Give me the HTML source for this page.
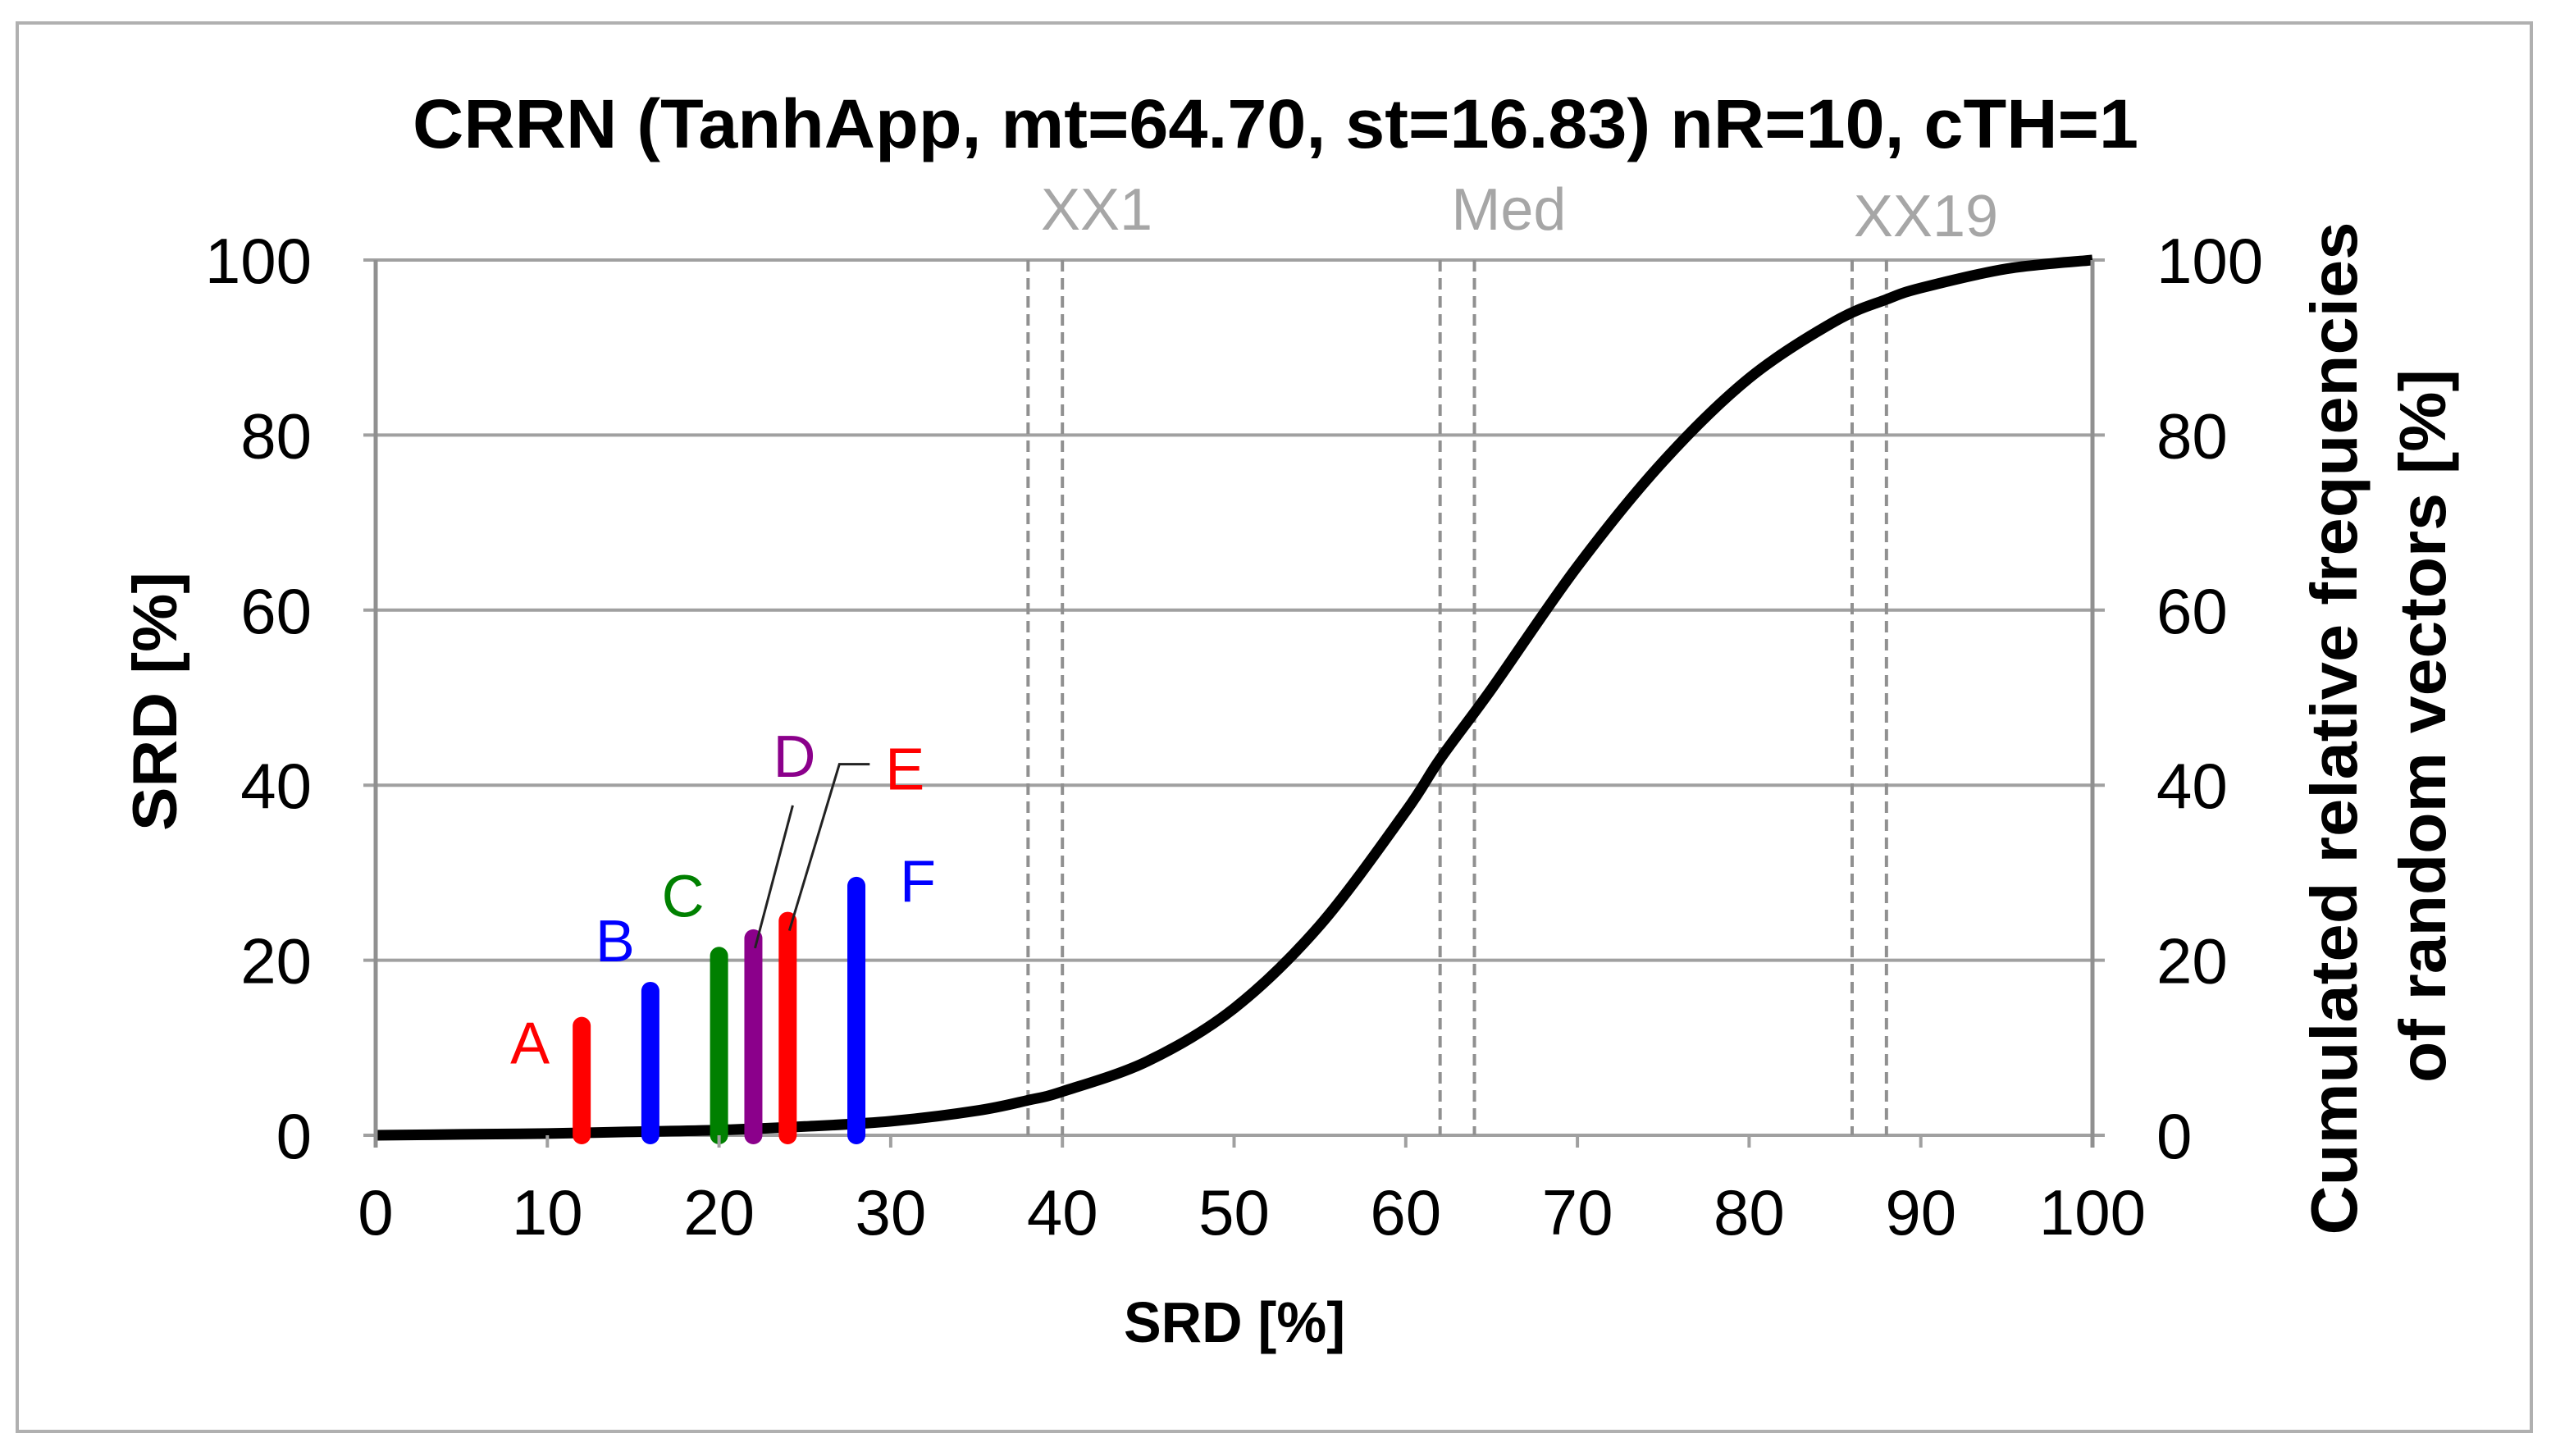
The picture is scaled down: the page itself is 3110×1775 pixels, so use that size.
<!DOCTYPE html>
<html><head><meta charset="utf-8"><style>
html,body{margin:0;padding:0;background:#fff;}
svg{display:block;}
text{font-family:"Liberation Sans",sans-serif;}
</style></head><body>
<svg id="chart" width="3110" height="1775" viewBox="0 0 3110 1775" xmlns="http://www.w3.org/2000/svg">
<rect x="21" y="28" width="3065" height="1717" fill="#fff" stroke="#b0b0b0" stroke-width="4"/>
<text x="503" y="180" font-size="84" font-weight="bold" textLength="2104" lengthAdjust="spacingAndGlyphs">CRRN (TanhApp,  mt=64.70, st=16.83) nR=10, cTH=1</text>
<g id="grid"></g>
<g id="dash"></g>
<g id="curve"></g>
<g id="bars"></g>
<g id="axes"></g>
<text transform="translate(215,855) rotate(-90)" text-anchor="middle" font-size="76" font-weight="bold" textLength="316" lengthAdjust="spacingAndGlyphs">SRD [%]</text>
<text x="1505" y="1636" text-anchor="middle" font-size="70" font-weight="bold" textLength="270" lengthAdjust="spacingAndGlyphs">SRD [%]</text>
<text transform="translate(2873,888) rotate(-90)" text-anchor="middle" font-size="80" font-weight="bold" textLength="1235" lengthAdjust="spacingAndGlyphs">Cumulated relative frequencies</text>
<text transform="translate(2981,885) rotate(-90)" text-anchor="middle" font-size="80" font-weight="bold" textLength="870" lengthAdjust="spacingAndGlyphs">of random vectors [%]</text>
</svg>
<script>
const xTicks=[0,10,20,30,40,50,60,70,80,90,100];
const yTicks=[0,20,40,60,80,100];
const curveX=[0,5,10,15,20,25,30,35,38,40,45,50,55,60,62,65,70,75,80,85,88,90,95,100];
const curveY=[0,0.1,0.2,0.4,0.6,1.0,1.6,2.8,4,5,8.5,14.5,24,37,43,51,65,77,86.5,93,95.5,96.8,99,100];
const dashX=[38,40,62,64,86,88];
const markerNames=["XX1","Med","XX19"];
const markerX=[42,66,90.3];
const barNames=["A","B","C","D","E","F"];
const barX=[12,16,20,22,24,28];
const barY=[12.5,16.5,20.5,22.5,24.5,28.5];
const barColors=["#ff0000","#0000ff","#008000","#8b008b","#ff0000","#0000ff"];
const NS="http://www.w3.org/2000/svg";
const X0=458,X1=2551,Y0=1384,Y1=317;
const sx=v=>X0+(X1-X0)*v/100;
const sy=v=>Y0-(Y0-Y1)*v/100;
function mk(tag,attrs,parent,txt){const e=document.createElementNS(NS,tag);for(const k in attrs)e.setAttribute(k,attrs[k]);if(txt!==undefined)e.textContent=txt;document.getElementById(parent).appendChild(e);return e;}
yTicks.forEach(t=>{
  const g=mk('line',{x1:X0-15,x2:X1+15,y1:sy(t),y2:sy(t),stroke:'#a0a0a0','stroke-width':4},'grid');
  
  
  const l=mk('text',{x:380,y:sy(t)+28,'text-anchor':'end','font-size':78},'axes',String(t));
  
  
  const r=mk('text',{x:2629,y:sy(t)+28,'text-anchor':'start','font-size':78},'axes',String(t));
  
  
});
xTicks.forEach(t=>{
  const tk=mk('line',{x1:sx(t),x2:sx(t),y1:Y0,y2:Y0+15,stroke:'#a0a0a0','stroke-width':4},'axes');
  
  
  const l=mk('text',{x:sx(t),y:1505,'text-anchor':'middle','font-size':78},'axes',String(t));
  
  
});
const la=mk('line',{x1:X0,x2:X0,y1:Y1,y2:Y0+15,stroke:'#909090','stroke-width':5},'axes');


const ra=mk('line',{x1:X1,x2:X1,y1:Y1,y2:Y0+15,stroke:'#909090','stroke-width':5},'axes');


dashX.forEach((d,i)=>{
  const l=mk('line',{x1:sx(d),x2:sx(d),y1:Y1,y2:Y0,stroke:'#909090','stroke-width':4,'stroke-dasharray':'14 8'},'dash');
  
  
});
markerNames.forEach((n,i)=>{
  const t=mk('text',{x:sx(markerX[i]),y:i==2?288:280,'text-anchor':'middle','font-size':72,fill:'#a6a6a6'},'dash',n);
  
  
});
const P=curveX.map((x,i)=>[sx(x),sy(curveY[i])]);
let d='M'+P[0][0].toFixed(1)+','+P[0][1].toFixed(1);
for(let i=0;i<P.length-1;i++){
  const p0=P[Math.max(0,i-1)],p1=P[i],p2=P[i+1],p3=P[Math.min(P.length-1,i+2)];
  const c1=[p1[0]+(p2[0]-p0[0])/6,p1[1]+(p2[1]-p0[1])/6];
  const c2=[p2[0]-(p3[0]-p1[0])/6,p2[1]-(p3[1]-p1[1])/6];
  d+='C'+c1.map(v=>v.toFixed(1)).join(',')+' '+c2.map(v=>v.toFixed(1)).join(',')+' '+p2.map(v=>v.toFixed(1)).join(',');
}
const cp=mk('path',{d:d,fill:'none',stroke:'#000','stroke-width':13,'stroke-linejoin':'round'},'curve');


barNames.forEach((n,i)=>{
  const b=mk('line',{x1:sx(barX[i]),x2:sx(barX[i]),y1:Y0,y2:sy(barY[i]),stroke:barColors[i],'stroke-width':22,'stroke-linecap':'round'},'bars');
  
  
});
const bt=i=>[sx(barX[i]),sy(barY[i])];
const lab=(n,i,x,y)=>{const t=mk('text',{x:x,y:y,'text-anchor':'middle','font-size':72,fill:barColors[i]},'bars',n);
  
  };
lab('A',0,bt(0)[0]-63,bt(0)[1]+46);
lab('B',1,bt(1)[0]-43,bt(1)[1]-36);
lab('C',2,bt(2)[0]-44,bt(2)[1]-48);
lab('D',3,bt(3)[0]+50,bt(3)[1]-197);
lab('E',4,bt(4)[0]+143,bt(4)[1]-160);
lab('F',5,bt(5)[0]+75,bt(5)[1]+19);
const dl=mk('polyline',{points:`${bt(3)[0]+2},${bt(3)[1]+12} ${bt(3)[0]+48},${bt(3)[1]-162}`,fill:'none',stroke:'#222','stroke-width':3},'bars');


const el=mk('polyline',{points:`${bt(4)[0]+2},${bt(4)[1]+12} ${bt(4)[0]+63},${bt(4)[1]-191} ${bt(4)[0]+100},${bt(4)[1]-191}`,fill:'none',stroke:'#222','stroke-width':3},'bars');


</script>
</body></html>
